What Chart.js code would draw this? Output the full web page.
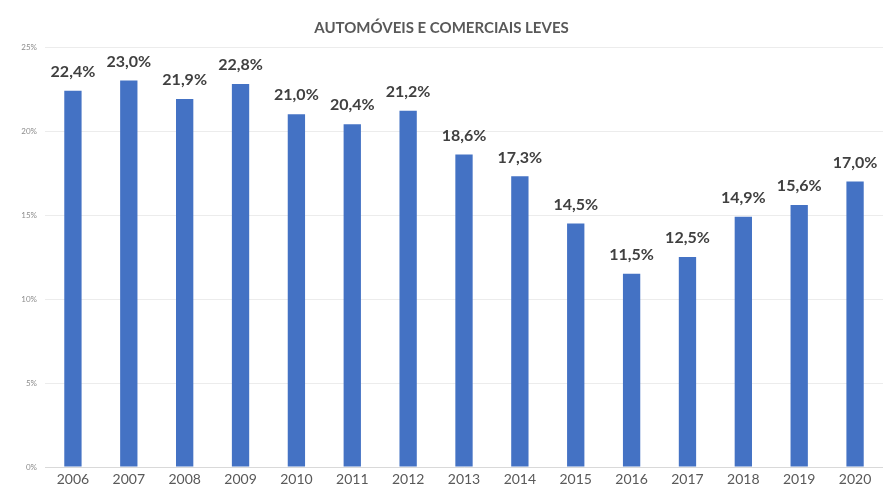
<!DOCTYPE html>
<html>
<head>
<meta charset="utf-8">
<script src="https://cdn.jsdelivr.net/npm/chart.js@4"></script>
<style>
  html, body { margin: 0; padding: 0; background: #fff; }
  #wrap { width: 883px; height: 494px; }
</style>
</head>
<body>
<div id="wrap"><canvas id="chart" width="883" height="494"></canvas></div>
<script>
const years = ['2006', '2007', '2008', '2009', '2010', '2011', '2012', '2013', '2014', '2015', '2016', '2017', '2018', '2019', '2020'];
const shares = [22.4, 23.0, 21.9, 22.8, 21.0, 20.4, 21.2, 18.6, 17.3, 14.5, 11.5, 12.5, 14.9, 15.6, 17.0];
const yTicks = [0, 5, 10, 15, 20, 25];
const chartTitle = 'AUTOMÓVEIS E COMERCIAIS LEVES';

// draws the value above each bar, like the excel labels
const valueLabels = {
  id: 'valueLabels',
  afterDatasetsDraw(chart) {
    const ctx = chart.ctx;
    const meta = chart.getDatasetMeta(0);
    ctx.save();
    ctx.font = 'bold 16px Lato, "Open Sans", sans-serif';
    ctx.fillStyle = '#404040';
    ctx.textAlign = 'center';
    ctx.textBaseline = 'bottom';
    meta.data.forEach((bar, i) => {
      const txt = shares[i].toFixed(1).replace('.', ',') + '%';
      ctx.fillText(txt, bar.x, bar.y - 11);
    });
    ctx.restore();
  }
};

new Chart(document.getElementById('chart'), {
  type: 'bar',
  data: {
    labels: years,
    datasets: [{
      data: shares,
      backgroundColor: '#4472C4',
      barPercentage: 0.31,
      categoryPercentage: 1.0
    }]
  },
  options: {
    responsive: false,
    animation: false,
    layout: { padding: { left: 0, right: 0, top: 0, bottom: 0 } },
    plugins: {
      legend: { display: false },
      tooltip: { enabled: false },
      title: {
        display: true,
        text: chartTitle,
        color: '#595959',
        font: { family: 'Lato, "Open Sans", sans-serif', size: 15, weight: 'bold' },
        padding: { top: 19, bottom: 10 }
      }
    },
    scales: {
      x: {
        grid: { display: false, drawTicks: false },
        border: { color: '#d9d9d9' },
        ticks: {
          color: '#595959',
          font: { family: 'Lato, "Open Sans", sans-serif', size: 14 },
          padding: 4,
          maxRotation: 0
        },
        afterFit(scale) { scale.height = 27; }
      },
      y: {
        min: 0,
        max: 25,
        afterBuildTicks(scale) { scale.ticks = yTicks.map(v => ({ value: v })); },
        grid: { color: '#ececec', drawTicks: false },
        border: { display: false },
        ticks: {
          color: '#8c8c8c',
          font: { family: 'Lato, "Open Sans", sans-serif', size: 8 },
          padding: 8,
          callback: v => v + '%'
        },
        afterFit(scale) { scale.width = 45; }
      }
    }
  },
  plugins: [valueLabels]
});
</script>
</body>
</html>
